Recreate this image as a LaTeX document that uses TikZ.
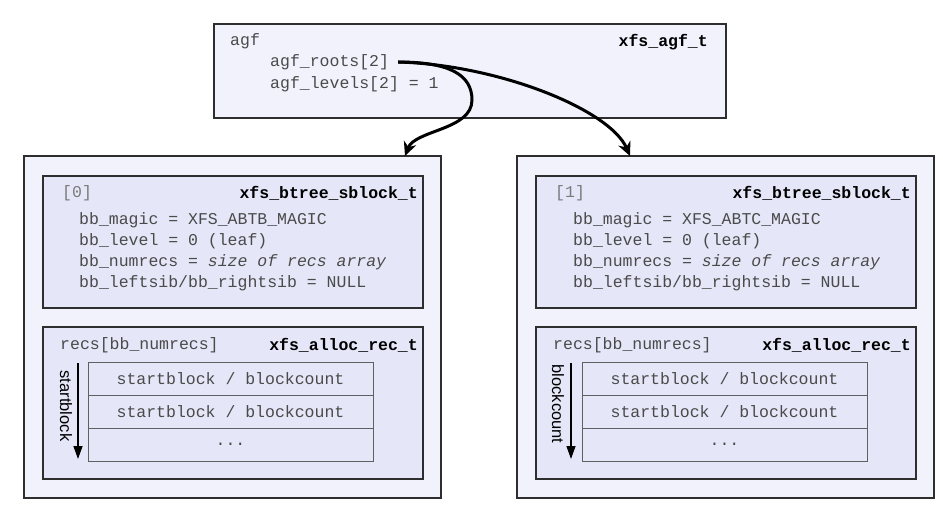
\documentclass[tikz,border=0pt]{standalone}
\usepackage{fontspec}
\setmainfont{Liberation Sans}
\setsansfont{Liberation Sans}
\setmonofont{Liberation Mono}
\usepackage{xcolor}
\usetikzlibrary{arrows.meta,positioning}
\definecolor{outerfill}{HTML}{F2F2FD}
\definecolor{innerfill}{HTML}{E5E7F8}
\definecolor{boxline}{HTML}{2E2E2E}
\definecolor{cellline}{HTML}{606060}
\definecolor{txtgray}{HTML}{4A4A4A}
\definecolor{idxgray}{HTML}{7A7A7A}
\newcommand{\recfont}{\fontsize{16.5}{19}\selectfont\ttfamily}
\newcommand{\keyfont}{\fontsize{16.5}{19}\selectfont\sffamily}

\begin{document}
\begin{tikzpicture}[x=1pt, y=-1pt,
  box/.style={draw=boxline, line width=1.5pt, anchor=north west,
    inner sep=0pt, outer sep=0pt},
  agfbox/.style={box, fill=outerfill, minimum width=512pt, minimum height=94pt},
  blkbox/.style={box, fill=outerfill, minimum width=417pt, minimum height=342pt},
  hdrbox/.style={box, fill=innerfill, minimum width=380pt, minimum height=132pt},
  recbox/.style={box, fill=innerfill, minimum width=380pt, minimum height=152pt},
  cell/.style={draw=cellline, line width=1pt, fill=innerfill, inner sep=0pt,
    outer sep=0pt, minimum width=285pt, minimum height=33pt,
    font=\recfont, text=txtgray},
  fld/.style={font=\recfont, text=txtgray, anchor=west, inner sep=0pt},
  idx/.style={fld, text=idxgray},
  tname/.style={font=\recfont\bfseries, text=black, anchor=east, inner sep=0pt},
  ptr/.style={-{Stealth[length=14pt,width=13pt]}, line width=3pt},
  order/.style={-{Triangle[length=13pt,width=9pt]}, line width=1.3pt},
  keylbl/.style={font=\keyfont, text=black, rotate=-90, inner sep=0pt},
]
\useasboundingbox (0,0) rectangle (943,505);

% AGF header
\node[agfbox] (agf) at (214,24) {};
\node[fld] (agfname) at (230,41) {agf};
\node[tname] (agftype) at (708,42) {xfs\_agf\_t};
\node[fld] (roots) at (270,62) {agf\_roots[2]};
\node[fld] (levels) at (270,84) {agf\_levels[2] = 1};

% left block: by block number
\node[blkbox] (lblk) at (24,156) {};
\node[hdrbox] (lhdr) at (43,176) {};
\node[idx] (lidx) at (62,193) {[0]};
\node[tname] (lhdrtype) at (418,193) {xfs\_btree\_sblock\_t};
\node[fld] (lmagic) at (79,220) {bb\_magic = XFS\_ABTB\_MAGIC};
\node[fld] (llevel) at (79,241) {bb\_level = 0 (leaf)};
\node[fld] (lnum) at (79,262) {bb\_numrecs = \textit{size of recs array}};
\node[fld] (lsib) at (79,283) {bb\_leftsib/bb\_rightsib = NULL};
\node[recbox] (lrecs) at (43,327) {};
\node[fld] (lrecsname) at (60,345) {recs[bb\_numrecs]};
\node[tname] (lrectype) at (418,345) {xfs\_alloc\_rec\_t};
\node[cell, anchor=north west] (lrec1) at (88,362) {startblock / blockcount};
\node[cell, below=0pt of lrec1] (lrec2) {startblock / blockcount};
\node[cell, below=0pt of lrec2] (lrec3) {...};
\coordinate (lkeytop) at (78,363);
\coordinate (lkeyend) at (78,459);
\draw[order] (lkeytop) -- (lkeyend);
\node[keylbl] (lkey) at (66,406) {startblock};

% right block: by block count
\node[blkbox] (rblk) at (517,156) {};
\node[hdrbox] (rhdr) at (536,176) {};
\node[idx] (ridx) at (555,193) {[1]};
\node[tname] (rhdrtype) at (911,193) {xfs\_btree\_sblock\_t};
\node[fld] (rmagic) at (573,220) {bb\_magic = XFS\_ABTC\_MAGIC};
\node[fld] (rlevel) at (573,241) {bb\_level = 0 (leaf)};
\node[fld] (rnum) at (573,262) {bb\_numrecs = \textit{size of recs array}};
\node[fld] (rsib) at (573,283) {bb\_leftsib/bb\_rightsib = NULL};
\node[recbox] (rrecs) at (536,327) {};
\node[fld] (rrecsname) at (553,345) {recs[bb\_numrecs]};
\node[tname] (rrectype) at (911,345) {xfs\_alloc\_rec\_t};
\node[cell, anchor=north west] (rrec1) at (582,362) {startblock / blockcount};
\node[cell, below=0pt of rrec1] (rrec2) {startblock / blockcount};
\node[cell, below=0pt of rrec2] (rrec3) {...};
\coordinate (rkeytop) at (571,363);
\coordinate (rkeyend) at (571,459);
\draw[order] (rkeytop) -- (rkeyend);
\node[keylbl] (rkey) at (558,404) {blockcount};

% root pointers
\coordinate (rootsend) at ([xshift=9pt]roots.east);
\coordinate (lroot) at ([xshift=-36pt]lblk.north east);
\coordinate (rroot) at ([xshift=113pt]rblk.north west);
\draw[ptr] (rootsend) .. controls (450,62) and (472,75) .. (472,100)
  .. controls (472,130) and (415,130) .. (lroot);
\draw[ptr] (rootsend) .. controls (500,65) and (610,110) .. (rroot);

\end{tikzpicture}
\end{document}
